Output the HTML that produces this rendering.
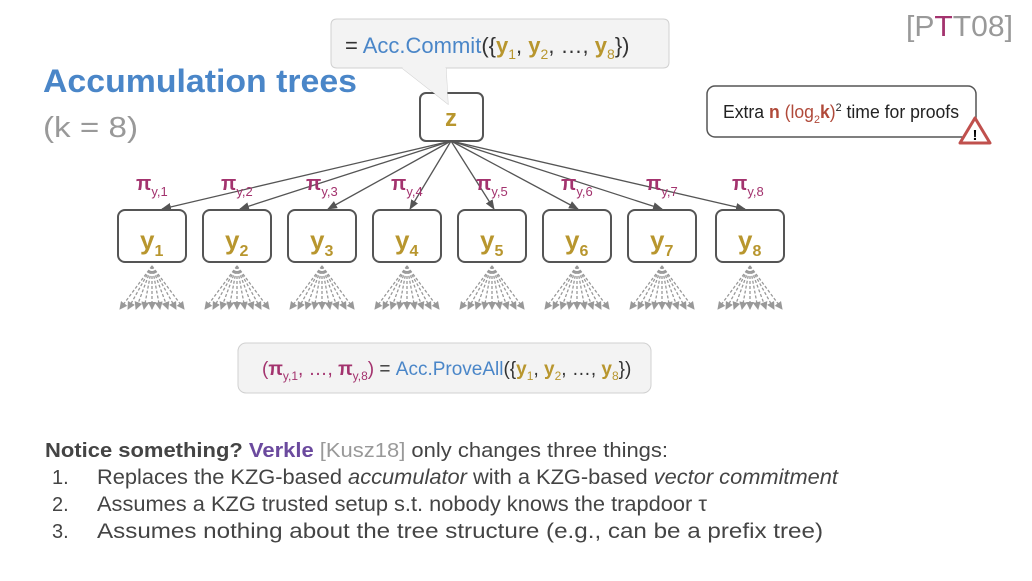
<!DOCTYPE html>
<html><head><meta charset="utf-8"><style>
html,body{margin:0;padding:0;background:#fff;}
svg{display:block;font-family:"Liberation Sans",sans-serif;}
</style></head><body>
<svg width="1032" height="581" viewBox="0 0 1032 581" xmlns="http://www.w3.org/2000/svg">
<defs>
<marker id="ah" markerWidth="10" markerHeight="8" refX="9" refY="4" orient="auto" markerUnits="userSpaceOnUse"><path d="M0,0 L10,4 L0,8 z" fill="#555"/></marker>
<marker id="ag" markerWidth="8" markerHeight="8" refX="7" refY="4" orient="auto" markerUnits="userSpaceOnUse"><path d="M0,0 L8,4 L0,8 z" fill="#999"/></marker>
</defs>
<text x="906" y="36" font-size="29" fill="#999" textLength="107" lengthAdjust="spacingAndGlyphs">[P<tspan fill="#a3336e">T</tspan>T08]</text>
<text x="43" y="92" font-size="32" font-weight="bold" fill="#4a86c8" textLength="314" lengthAdjust="spacingAndGlyphs">Accumulation trees</text>
<text x="43" y="137" font-size="29" fill="#999" textLength="95" lengthAdjust="spacingAndGlyphs">(k = 8)</text>

<g stroke="#555" stroke-width="1.3" fill="none" marker-end="url(#ah)">
<line x1="451" y1="141" x2="162" y2="209"/>
<line x1="451" y1="141" x2="240" y2="209"/>
<line x1="451" y1="141" x2="328" y2="209"/>
<line x1="451" y1="141" x2="410" y2="209"/>
<line x1="451" y1="141" x2="494" y2="209"/>
<line x1="451" y1="141" x2="578" y2="209"/>
<line x1="451" y1="141" x2="662" y2="209"/>
<line x1="451" y1="141" x2="745" y2="209"/>
</g>

<path d="M337,19 H663 Q669,19 669,25 V62 Q669,68 663,68 H446 L448,104 L402,68 H337 Q331,68 331,62 V25 Q331,19 337,19 Z" fill="#f3f3f3" stroke="#d0d0d0" stroke-width="1"/>
<rect x="420" y="93" width="63" height="48" rx="6" fill="none" stroke="#555" stroke-width="2"/>
<path d="M402,68 L448,104 L446,68 Z" fill="#f3f3f3"/>
<text x="451" y="126" font-size="24" font-weight="bold" fill="#b8962e" text-anchor="middle">z</text>
<text x="345" y="53" font-size="22" fill="#333">= <tspan fill="#4a86c8">Acc.Commit</tspan>({<tspan fill="#b8962e" font-weight="bold">y</tspan><tspan fill="#b8962e" font-size="14" dy="6">1</tspan><tspan dy="-6">, </tspan><tspan fill="#b8962e" font-weight="bold">y</tspan><tspan fill="#b8962e" font-size="14" dy="6">2</tspan><tspan dy="-6">, …, </tspan><tspan fill="#b8962e" font-weight="bold">y</tspan><tspan fill="#b8962e" font-size="14" dy="6">8</tspan><tspan dy="-6">})</tspan></text>

<rect x="707" y="86" width="269" height="51" rx="8" fill="#fff" stroke="#555" stroke-width="1.5"/>
<text x="723" y="118" font-size="18" fill="#222" textLength="236" lengthAdjust="spacingAndGlyphs">Extra <tspan fill="#b04a3a" font-weight="bold">n</tspan><tspan fill="#b04a3a"> (log</tspan><tspan fill="#b04a3a" font-size="11" dy="5">2</tspan><tspan fill="#b04a3a" font-weight="bold" dy="-5">k</tspan><tspan fill="#b04a3a">)</tspan><tspan font-size="11" dy="-7">2</tspan><tspan dy="7"> time for proofs</tspan></text>
<path d="M975,118 L990,143 L960,143 Z" fill="#fff" stroke="#c0504d" stroke-width="3" stroke-linejoin="round"/>
<text x="975" y="140" font-size="15" font-weight="bold" text-anchor="middle" fill="#000">!</text>

<g font-weight="bold">
<text x="136" y="190" font-size="20" fill="#a3336e">π<tspan font-size="13" font-weight="normal" dy="6">y,1</tspan></text>
<text x="221" y="190" font-size="20" fill="#a3336e">π<tspan font-size="13" font-weight="normal" dy="6">y,2</tspan></text>
<text x="306" y="190" font-size="20" fill="#a3336e">π<tspan font-size="13" font-weight="normal" dy="6">y,3</tspan></text>
<text x="391" y="190" font-size="20" fill="#a3336e">π<tspan font-size="13" font-weight="normal" dy="6">y,4</tspan></text>
<text x="476" y="190" font-size="20" fill="#a3336e">π<tspan font-size="13" font-weight="normal" dy="6">y,5</tspan></text>
<text x="561" y="190" font-size="20" fill="#a3336e">π<tspan font-size="13" font-weight="normal" dy="6">y,6</tspan></text>
<text x="646" y="190" font-size="20" fill="#a3336e">π<tspan font-size="13" font-weight="normal" dy="6">y,7</tspan></text>
<text x="732" y="190" font-size="20" fill="#a3336e">π<tspan font-size="13" font-weight="normal" dy="6">y,8</tspan></text>
</g>
<g fill="none" stroke="#555" stroke-width="2">
<rect x="118" y="210" width="68" height="52" rx="7"/>
<rect x="203" y="210" width="68" height="52" rx="7"/>
<rect x="288" y="210" width="68" height="52" rx="7"/>
<rect x="373" y="210" width="68" height="52" rx="7"/>
<rect x="458" y="210" width="68" height="52" rx="7"/>
<rect x="543" y="210" width="68" height="52" rx="7"/>
<rect x="628" y="210" width="68" height="52" rx="7"/>
<rect x="716" y="210" width="68" height="52" rx="7"/>
</g>
<g fill="#b8962e" font-weight="bold" font-size="26">
<text x="140" y="249">y<tspan font-size="16" dy="7">1</tspan></text>
<text x="225" y="249">y<tspan font-size="16" dy="7">2</tspan></text>
<text x="310" y="249">y<tspan font-size="16" dy="7">3</tspan></text>
<text x="395" y="249">y<tspan font-size="16" dy="7">4</tspan></text>
<text x="480" y="249">y<tspan font-size="16" dy="7">5</tspan></text>
<text x="565" y="249">y<tspan font-size="16" dy="7">6</tspan></text>
<text x="650" y="249">y<tspan font-size="16" dy="7">7</tspan></text>
<text x="738" y="249">y<tspan font-size="16" dy="7">8</tspan></text>
</g>
<g stroke="#999" stroke-width="1.3" stroke-dasharray="3,2" fill="none" marker-end="url(#ag)">
<g transform="translate(152,0)"><line x1="0" y1="266" x2="-32" y2="309"/><line x1="0" y1="266" x2="-24" y2="309"/><line x1="0" y1="266" x2="-16" y2="309"/><line x1="0" y1="266" x2="-8" y2="309"/><line x1="0" y1="266" x2="0" y2="309"/><line x1="0" y1="266" x2="8" y2="309"/><line x1="0" y1="266" x2="16" y2="309"/><line x1="0" y1="266" x2="24" y2="309"/><line x1="0" y1="266" x2="32" y2="309"/></g>
<g transform="translate(237,0)"><line x1="0" y1="266" x2="-32" y2="309"/><line x1="0" y1="266" x2="-24" y2="309"/><line x1="0" y1="266" x2="-16" y2="309"/><line x1="0" y1="266" x2="-8" y2="309"/><line x1="0" y1="266" x2="0" y2="309"/><line x1="0" y1="266" x2="8" y2="309"/><line x1="0" y1="266" x2="16" y2="309"/><line x1="0" y1="266" x2="24" y2="309"/><line x1="0" y1="266" x2="32" y2="309"/></g>
<g transform="translate(322,0)"><line x1="0" y1="266" x2="-32" y2="309"/><line x1="0" y1="266" x2="-24" y2="309"/><line x1="0" y1="266" x2="-16" y2="309"/><line x1="0" y1="266" x2="-8" y2="309"/><line x1="0" y1="266" x2="0" y2="309"/><line x1="0" y1="266" x2="8" y2="309"/><line x1="0" y1="266" x2="16" y2="309"/><line x1="0" y1="266" x2="24" y2="309"/><line x1="0" y1="266" x2="32" y2="309"/></g>
<g transform="translate(407,0)"><line x1="0" y1="266" x2="-32" y2="309"/><line x1="0" y1="266" x2="-24" y2="309"/><line x1="0" y1="266" x2="-16" y2="309"/><line x1="0" y1="266" x2="-8" y2="309"/><line x1="0" y1="266" x2="0" y2="309"/><line x1="0" y1="266" x2="8" y2="309"/><line x1="0" y1="266" x2="16" y2="309"/><line x1="0" y1="266" x2="24" y2="309"/><line x1="0" y1="266" x2="32" y2="309"/></g>
<g transform="translate(492,0)"><line x1="0" y1="266" x2="-32" y2="309"/><line x1="0" y1="266" x2="-24" y2="309"/><line x1="0" y1="266" x2="-16" y2="309"/><line x1="0" y1="266" x2="-8" y2="309"/><line x1="0" y1="266" x2="0" y2="309"/><line x1="0" y1="266" x2="8" y2="309"/><line x1="0" y1="266" x2="16" y2="309"/><line x1="0" y1="266" x2="24" y2="309"/><line x1="0" y1="266" x2="32" y2="309"/></g>
<g transform="translate(577,0)"><line x1="0" y1="266" x2="-32" y2="309"/><line x1="0" y1="266" x2="-24" y2="309"/><line x1="0" y1="266" x2="-16" y2="309"/><line x1="0" y1="266" x2="-8" y2="309"/><line x1="0" y1="266" x2="0" y2="309"/><line x1="0" y1="266" x2="8" y2="309"/><line x1="0" y1="266" x2="16" y2="309"/><line x1="0" y1="266" x2="24" y2="309"/><line x1="0" y1="266" x2="32" y2="309"/></g>
<g transform="translate(662,0)"><line x1="0" y1="266" x2="-32" y2="309"/><line x1="0" y1="266" x2="-24" y2="309"/><line x1="0" y1="266" x2="-16" y2="309"/><line x1="0" y1="266" x2="-8" y2="309"/><line x1="0" y1="266" x2="0" y2="309"/><line x1="0" y1="266" x2="8" y2="309"/><line x1="0" y1="266" x2="16" y2="309"/><line x1="0" y1="266" x2="24" y2="309"/><line x1="0" y1="266" x2="32" y2="309"/></g>
<g transform="translate(750,0)"><line x1="0" y1="266" x2="-32" y2="309"/><line x1="0" y1="266" x2="-24" y2="309"/><line x1="0" y1="266" x2="-16" y2="309"/><line x1="0" y1="266" x2="-8" y2="309"/><line x1="0" y1="266" x2="0" y2="309"/><line x1="0" y1="266" x2="8" y2="309"/><line x1="0" y1="266" x2="16" y2="309"/><line x1="0" y1="266" x2="24" y2="309"/><line x1="0" y1="266" x2="32" y2="309"/></g>
</g>

<rect x="238" y="343" width="413" height="50" rx="8" fill="#f3f3f3" stroke="#d0d0d0"/>
<text x="262" y="375" font-size="19" fill="#333"><tspan fill="#a3336e">(</tspan><tspan fill="#a3336e" font-weight="bold">π</tspan><tspan fill="#a3336e" font-size="12" dy="5">y,1</tspan><tspan fill="#a3336e" dy="-5">, …, </tspan><tspan fill="#a3336e" font-weight="bold">π</tspan><tspan fill="#a3336e" font-size="12" dy="5">y,8</tspan><tspan fill="#a3336e" dy="-5">)</tspan> = <tspan fill="#4a86c8">Acc.ProveAll</tspan>({<tspan fill="#b8962e" font-weight="bold">y</tspan><tspan fill="#b8962e" font-size="12" dy="5">1</tspan><tspan dy="-5">, </tspan><tspan fill="#b8962e" font-weight="bold">y</tspan><tspan fill="#b8962e" font-size="12" dy="5">2</tspan><tspan dy="-5">, …, </tspan><tspan fill="#b8962e" font-weight="bold">y</tspan><tspan fill="#b8962e" font-size="12" dy="5">8</tspan><tspan dy="-5">})</tspan></text>

<text x="45" y="457" font-size="20" fill="#444" textLength="623" lengthAdjust="spacingAndGlyphs"><tspan font-weight="bold">Notice something? </tspan><tspan font-weight="bold" fill="#6b4a9e">Verkle</tspan><tspan fill="#999"> [Kusz18]</tspan> only changes three things:</text>
<g font-size="21" fill="#444">
<text x="52" y="484" font-size="20">1.</text>
<text x="97" y="484" textLength="741" lengthAdjust="spacingAndGlyphs">Replaces the KZG-based <tspan font-style="italic">accumulator</tspan> with a KZG-based <tspan font-style="italic">vector commitment</tspan></text>
<text x="52" y="511" font-size="20">2.</text>
<text x="97" y="511" textLength="610" lengthAdjust="spacingAndGlyphs">Assumes a KZG trusted setup s.t. nobody knows the trapdoor τ</text>
<text x="52" y="538" font-size="20">3.</text>
<text x="97" y="538" textLength="726" lengthAdjust="spacingAndGlyphs">Assumes nothing about the tree structure (e.g., can be a prefix tree)</text>
</g>
</svg>
</body></html>
